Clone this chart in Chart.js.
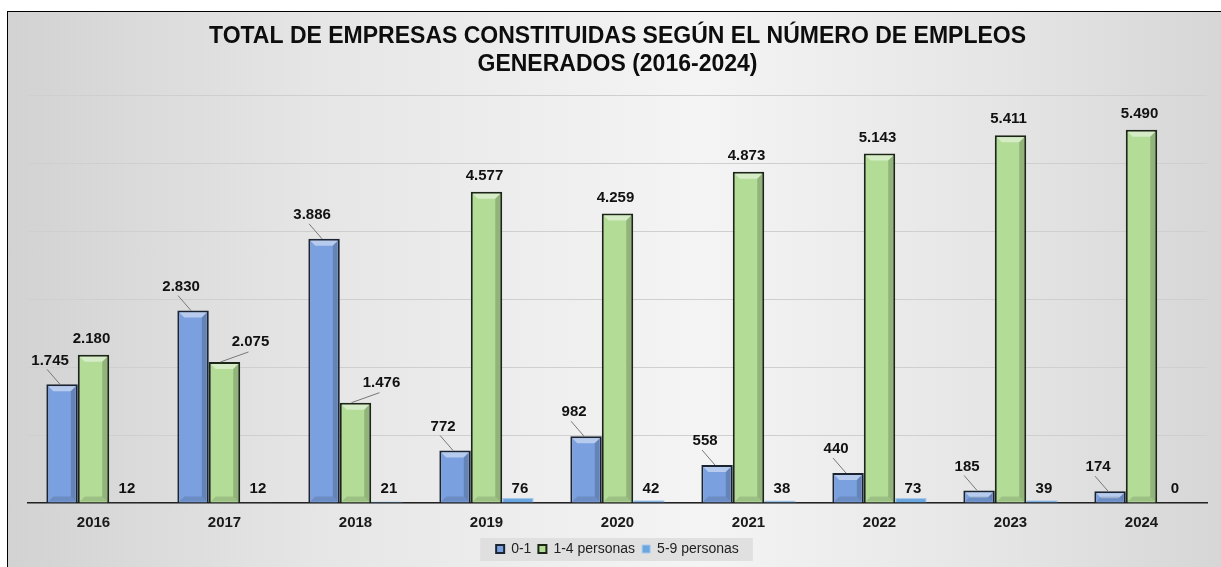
<!DOCTYPE html>
<html>
<head>
<meta charset="utf-8">
<script src="https://cdn.jsdelivr.net/npm/chart.js@4"></script>
<style>
    html, body { margin: 0; padding: 0; width: 1221px; height: 567px; overflow: hidden; background: #ffffff; }
    #marco {
        position: absolute; left: 7px; top: 11px; width: 1260px; height: 600px;
        border: 1px solid #000;
        background: linear-gradient(90deg, #d2d2d2 0%, #e6e6e6 25%, #f4f4f4 55%, #e4e4e4 80%, #d3d3d3 100%);
    }
    #grafico { position: absolute; left: 0; top: 0; }
</style>
</head>
<body>
<div id="marco"></div>
<canvas id="grafico" width="1221" height="567"></canvas>
<script>
// Datos del gráfico
const anios = ['2016', '2017', '2018', '2019', '2020', '2021', '2022', '2023', '2024'];
const empleos01 = [1745, 2830, 3886, 772, 982, 558, 440, 185, 174];
const empleos14 = [2180, 2075, 1476, 4577, 4259, 4873, 5143, 5411, 5490];
const empleos59 = [12, 12, 21, 76, 42, 38, 73, 39, 0];
const tituloLineas = ['TOTAL DE EMPRESAS CONSTITUIDAS SEGÚN EL NÚMERO DE EMPLEOS', 'GENERADOS (2016-2024)'];

const FUENTE = 'Arial, "Liberation Sans", sans-serif';

// Formato con punto de miles
function formatoMiles(v) {
    return v.toString().replace(/\B(?=(\d{3})+(?!\d))/g, '.');
}

/**
 * Fondo gris de la leyenda (solo alrededor de los items)
 */
const fondoLeyenda = {
    id: 'fondoLeyenda',
    beforeDraw(chart) {
        const lg = chart.legend;
        if (!lg || !lg.legendHitBoxes || !lg.legendHitBoxes.length) return;
        const cajas = lg.legendHitBoxes;
        const x0 = cajas[0].left - 16;
        const ult = cajas[cajas.length - 1];
        const x1 = ult.left + ult.width + 14;
        const cy = cajas[0].top + cajas[0].height / 2;
        const ctx = chart.ctx;
        ctx.save();
        ctx.fillStyle = 'rgba(222,222,222,0.9)';
        ctx.fillRect(x0, cy - 11, x1 - x0, 23);
        ctx.restore();
    }
};

/**
 * Efecto biselado de las barras
 */
const biselBarras = {
    id: 'biselBarras',
    afterDatasetsDraw(chart) {
        const ctx = chart.ctx;
        [0, 1].forEach(i => {
            chart.getDatasetMeta(i).data.forEach(bar => {
                const w = bar.width;
                const l = bar.x - w / 2 + 2, r = bar.x + w / 2 - 2;
                const t = bar.y + 2, b = bar.base - 1;
                if (b - t < 8) return;
                ctx.save();
                ctx.fillStyle = 'rgba(255,255,255,0.45)';
                ctx.beginPath();
                ctx.moveTo(l, t); ctx.lineTo(r, t); ctx.lineTo(r - 5, t + 5); ctx.lineTo(l + 5, t + 5);
                ctx.closePath(); ctx.fill();
                ctx.fillStyle = 'rgba(0,0,0,0.18)';
                ctx.beginPath();
                ctx.moveTo(r, t); ctx.lineTo(r, b); ctx.lineTo(r - 5, b - 5); ctx.lineTo(r - 5, t + 5);
                ctx.closePath(); ctx.fill();
                ctx.fillStyle = 'rgba(0,0,0,0.12)';
                ctx.beginPath();
                ctx.moveTo(l, b); ctx.lineTo(r, b); ctx.lineTo(r - 5, b - 5); ctx.lineTo(l + 5, b - 5);
                ctx.closePath(); ctx.fill();
                ctx.restore();
            });
        });
    }
};

/**
 * Etiquetas de valores
 */
const etiquetas = {
    id: 'etiquetas',
    afterDatasetsDraw(chart) {
        const ctx = chart.ctx;
        ctx.save();
        ctx.font = 'bold 15px ' + FUENTE;
        ctx.fillStyle = '#111';
        ctx.textAlign = 'center';
        ctx.textBaseline = 'middle';
        ctx.strokeStyle = '#777';
        ctx.lineWidth = 1;
        const m0 = chart.getDatasetMeta(0).data;
        const m1 = chart.getDatasetMeta(1).data;
        const m2 = chart.getDatasetMeta(2).data;
        anios.forEach((a, i) => {
            // 0-1: desplazada a la izquierda con línea guía
            const b0 = m0[i];
            const lx = b0.x - 12, ly = b0.y - 24;
            ctx.beginPath();
            ctx.moveTo(b0.x - 2, b0.y);
            ctx.lineTo(lx - 3, ly + 9);
            ctx.stroke();
            ctx.fillText(formatoMiles(empleos01[i]), lx, ly);

            // 1-4 personas
            const b1 = m1[i];
            if (empleos14[i] < empleos01[i]) {
                const gx = b1.x + 26, gy = b1.y - 20;
                ctx.beginPath();
                ctx.moveTo(b1.x - 4, b1.y);
                ctx.lineTo(gx - 2, gy + 10);
                ctx.stroke();
                ctx.fillText(formatoMiles(empleos14[i]), gx, gy);
            } else {
                ctx.fillText(formatoMiles(empleos14[i]), b1.x - 2, b1.y - 16);
            }

            // 5-9 personas
            const b2 = m2[i];
            ctx.fillText(formatoMiles(empleos59[i]), b2.x + 2, b2.base - 14);
        });
        ctx.restore();
    }
};

const ctx = document.getElementById('grafico');
new Chart(ctx, {
    type: 'bar',
    data: {
        labels: anios,
        datasets: [
            {
                label: '0-1',
                data: empleos01,
                backgroundColor: '#7ba0e0',
                borderColor: '#1b2433',
                borderWidth: 2,
                borderSkipped: 'bottom'
            },
            {
                label: '1-4 personas',
                data: empleos14,
                backgroundColor: '#b3dc97',
                borderColor: '#1c2616',
                borderWidth: 2,
                borderSkipped: 'bottom'
            },
            {
                label: '5-9 personas',
                data: empleos59,
                backgroundColor: '#6aa6e0',
                borderColor: '#a9c9ea',
                borderWidth: 1,
                borderSkipped: 'bottom'
            }
        ]
    },
    options: {
        responsive: false,
        animation: false,
        devicePixelRatio: 1,
        layout: { padding: { left: 28, right: 14, top: 0, bottom: 1 } },
        datasets: { bar: { categoryPercentage: 0.72, barPercentage: 1.0 } },
        plugins: {
            title: {
                display: true,
                text: tituloLineas,
                color: '#0d0d0d',
                font: { family: FUENTE, size: 23, weight: 'bold', lineHeight: 1.22 },
                padding: { top: 23, bottom: 16 }
            },
            legend: {
                position: 'bottom',
                labels: {
                    color: '#222',
                    font: { family: FUENTE, size: 14 },
                    boxWidth: 8,
                    boxHeight: 8,
                    padding: 7
                }
            },
            tooltip: { enabled: false }
        },
        scales: {
            x: {
                grid: { display: false },
                border: { color: '#222', width: 1.5 },
                ticks: {
                    color: '#1a1a1a',
                    font: { family: FUENTE, size: 15, weight: 'bold' },
                    padding: 3
                }
            },
            y: {
                min: 0,
                max: 6000,
                ticks: { display: false, stepSize: 1000 },
                grid: { color: '#cfcfcf', drawTicks: false },
                border: { display: false }
            }
        }
    },
    plugins: [fondoLeyenda, biselBarras, etiquetas]
});
</script>
</body>
</html>
